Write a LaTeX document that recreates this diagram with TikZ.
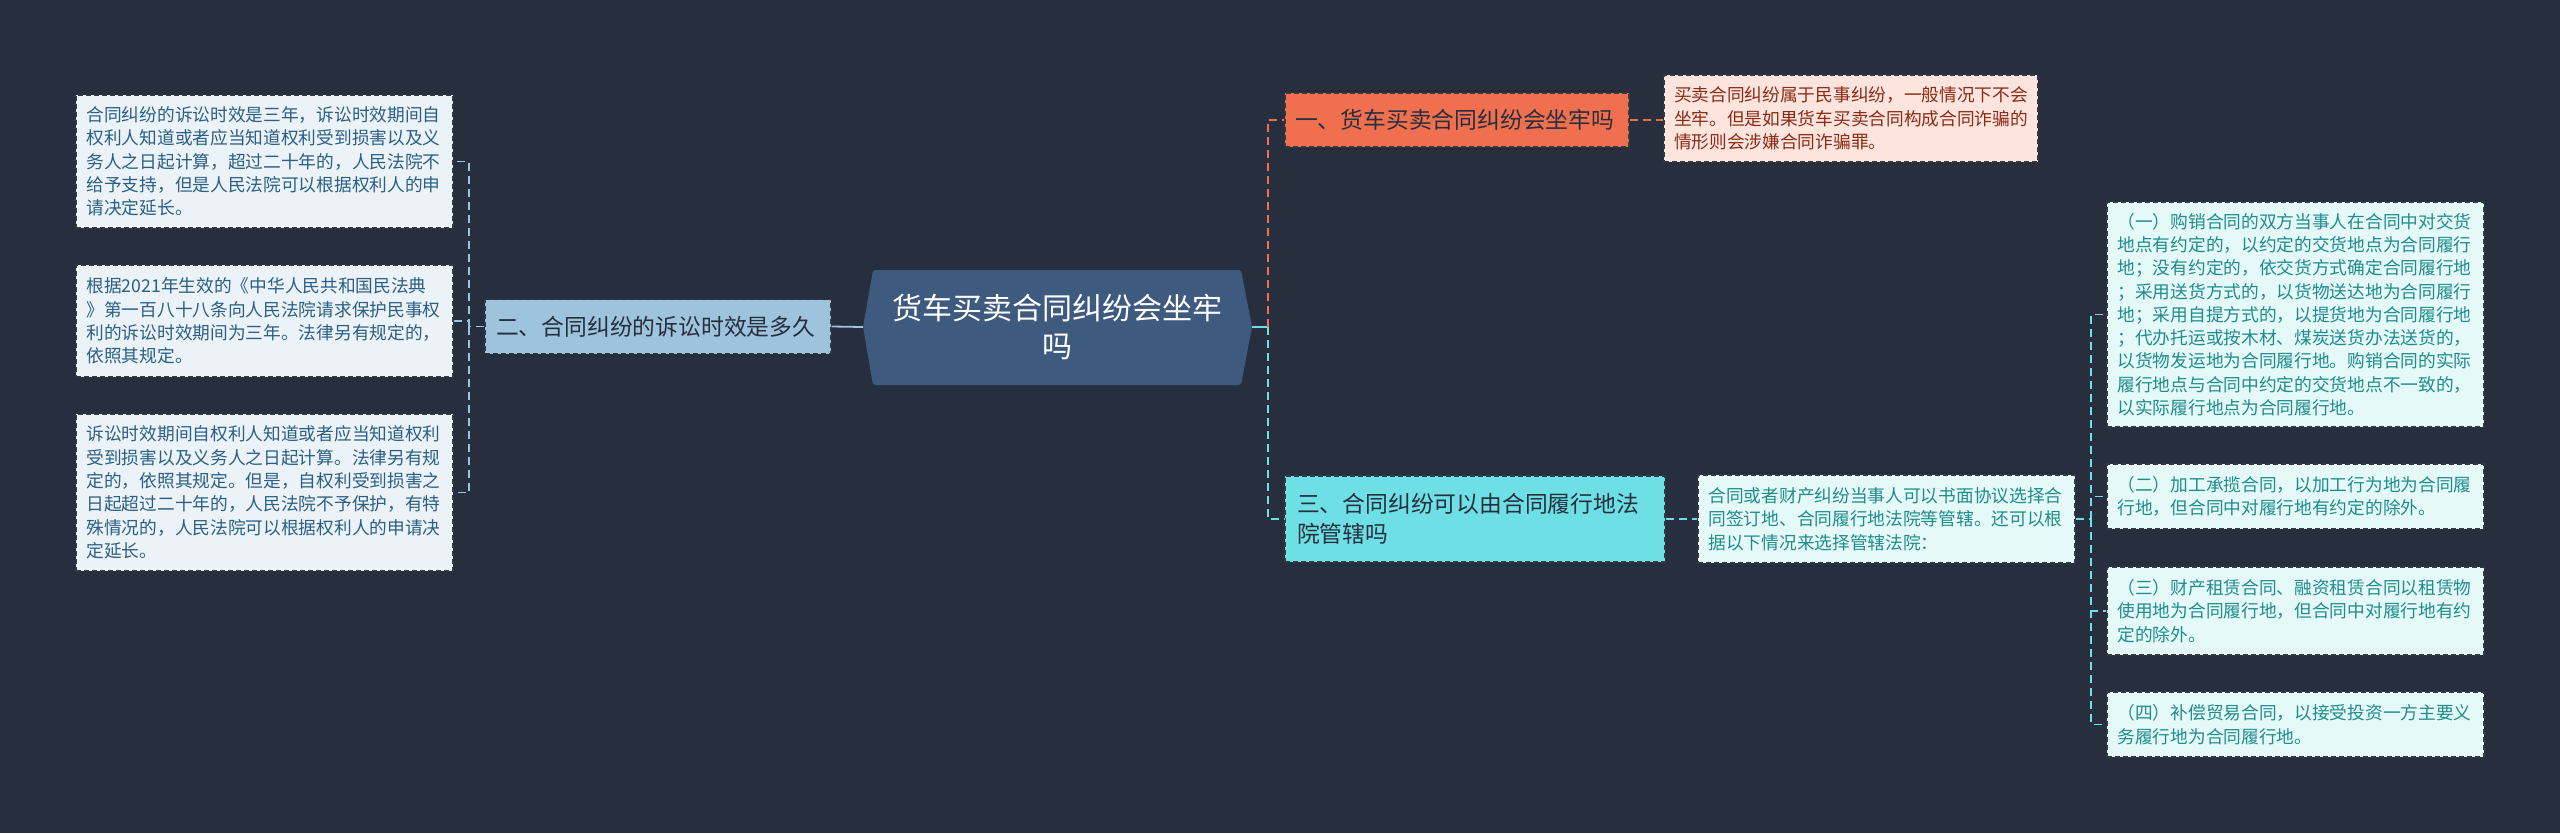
\documentclass[tikz,border=0pt]{standalone}
\usepackage{fontspec}
\setmainfont{Noto Sans CJK SC}
\definecolor{bg}{HTML}{272F3E}
\definecolor{cfill}{HTML}{3E5A7E}
\definecolor{btwo}{HTML}{9DC3DD}
\definecolor{ltwo}{HTML}{EBF3F9}
\definecolor{ttwo}{HTML}{2C5F82}
\definecolor{bone}{HTML}{F06F4E}
\definecolor{lone}{HTML}{FDE5DE}
\definecolor{tone}{HTML}{8A2B17}
\definecolor{bthree}{HTML}{6EDFE4}
\definecolor{lthree}{HTML}{E5F9F9}
\definecolor{tthree}{HTML}{1F8C8C}
\definecolor{bord}{HTML}{333840}
\tikzset{
  boxbase/.style={draw=bord, line width=1.3pt, dash pattern=on 5pt off 3pt, inner sep=0pt, align=left},
  leafbox/.style={boxbase, font=\fontsize{17.7}{23.3}\selectfont},
  branchbox/.style={boxbase, font=\fontsize{22.8}{30}\selectfont},
  conn/.style={line width=1.8pt, dash pattern=on 8pt off 5pt},
}
\begin{document}
\begin{tikzpicture}[x=1pt,y=-1pt]
\fill[bg] (0,0) rectangle (2560,833);
\useasboundingbox (0,0) rectangle (2560,833);
% center
\fill[cfill, rounded corners=2pt] (873,270) -- (1241,270) -- (1252,327) -- (1241,385) -- (873,385) -- (863,327) -- cycle;
\node[text=white, align=center, font=\fontsize{30}{38}\selectfont, inner sep=0pt] (center) at (1057.5,327) {货车买卖合同纠纷会坐牢\\吗};
\coordinate (cL) at (863,327);
\coordinate (cR) at (1252,327);
% branch two and leaves
\node[branchbox, fill=btwo, text=bg, minimum width=346pt, minimum height=54pt, text width=324pt] (b2) at (658,326.5) {二、合同纠纷的诉讼时效是多久};
\node[leafbox, fill=ltwo, text=ttwo, minimum width=377pt, minimum height=133pt, text width=356pt] (l1) at (264.5,161.5) {合同纠纷的诉讼时效是三年，诉讼时效期间自\\权利人知道或者应当知道权利受到损害以及义\\务人之日起计算，超过二十年的，人民法院不\\给予支持，但是人民法院可以根据权利人的申\\请决定延长。};
\node[leafbox, fill=ltwo, text=ttwo, minimum width=377pt, minimum height=112pt, text width=356pt] (l2) at (264.5,321) {根据2021年生效的《中华人民共和国民法典\\》第一百八十八条向人民法院请求保护民事权\\利的诉讼时效期间为三年。法律另有规定的，\\依照其规定。};
\node[leafbox, fill=ltwo, text=ttwo, minimum width=377pt, minimum height=157pt, text width=356pt] (l3) at (264.5,492.5) {诉讼时效期间自权利人知道或者应当知道权利\\受到损害以及义务人之日起计算。法律另有规\\定的，依照其规定。但是，自权利受到损害之\\日起超过二十年的，人民法院不予保护，有特\\殊情况的，人民法院可以根据权利人的申请决\\定延长。};
\coordinate (jL) at (469,326.5);
\draw[btwo, line width=1.8pt] (b2.east) -- (cL);
\draw[btwo, conn] (b2.west) -- (jL);
\draw[btwo, conn] (jL) |- (l1.east);
\draw[btwo, conn] (jL) |- (l2.east);
\draw[btwo, conn] (jL) |- (l3.east);
% branch one
\node[branchbox, fill=bone, text=bg, minimum width=344pt, minimum height=54pt, text width=324pt] (b1) at (1457,120) {一、货车买卖合同纠纷会坐牢吗};
\node[leafbox, fill=lone, text=tone, minimum width=374pt, minimum height=87pt, text width=354pt] (k1) at (1851,118.5) {买卖合同纠纷属于民事纠纷，一般情况下不会\\坐牢。但是如果货车买卖合同构成合同诈骗的\\情形则会涉嫌合同诈骗罪。};
\coordinate (jR) at (1268,327);
\draw[bthree, line width=1.8pt] (cR) -- (jR);
\draw[bone, conn] (jR) |- (b1.west);
\draw[bone, conn] (b1.east) -- (b1.east -| k1.west);
% branch three
\node[branchbox, fill=bthree, text=bg, minimum width=380pt, minimum height=86pt, text width=356pt] (b3) at (1475,519) {三、合同纠纷可以由合同履行地法\\院管辖吗};
\node[leafbox, fill=lthree, text=tthree, minimum width=377pt, minimum height=88pt, text width=356pt] (k3) at (1886.5,519) {合同或者财产纠纷当事人可以书面协议选择合\\同签订地、合同履行地法院等管辖。还可以根\\据以下情况来选择管辖法院：};
\draw[bthree, conn] (jR) |- (b3.west);
\draw[bthree, conn] (b3.east) -- (k3.west);
\node[leafbox, fill=lthree, text=tthree, minimum width=377pt, minimum height=225pt, text width=356pt] (s1) at (2295.5,314.5) {（一）购销合同的双方当事人在合同中对交货\\地点有约定的，以约定的交货地点为合同履行\\地；没有约定的，依交货方式确定合同履行地\\；采用送货方式的，以货物送达地为合同履行\\地；采用自提方式的，以提货地为合同履行地\\；代办托运或按木材、煤炭送货办法送货的，\\以货物发运地为合同履行地。购销合同的实际\\履行地点与合同中约定的交货地点不一致的，\\以实际履行地点为合同履行地。};
\node[leafbox, fill=lthree, text=tthree, minimum width=377pt, minimum height=65pt, text width=356pt] (s2) at (2295.5,496.5) {（二）加工承揽合同，以加工行为地为合同履\\行地，但合同中对履行地有约定的除外。};
\node[leafbox, fill=lthree, text=tthree, minimum width=377pt, minimum height=88pt, text width=356pt] (s3) at (2295.5,611) {（三）财产租赁合同、融资租赁合同以租赁物\\使用地为合同履行地，但合同中对履行地有约\\定的除外。};
\node[leafbox, fill=lthree, text=tthree, minimum width=377pt, minimum height=65pt, text width=356pt] (s4) at (2295.5,724.5) {（四）补偿贸易合同，以接受投资一方主要义\\务履行地为合同履行地。};
\coordinate (jS) at (2091,519);
\draw[bthree, conn] (k3.east) -- (jS);
\draw[bthree, conn] (jS) |- (s1.west);
\draw[bthree, conn] (jS) |- (s2.west);
\draw[bthree, conn] (jS) |- (s3.west);
\draw[bthree, conn] (jS) |- (s4.west);
\end{tikzpicture}
\end{document}
